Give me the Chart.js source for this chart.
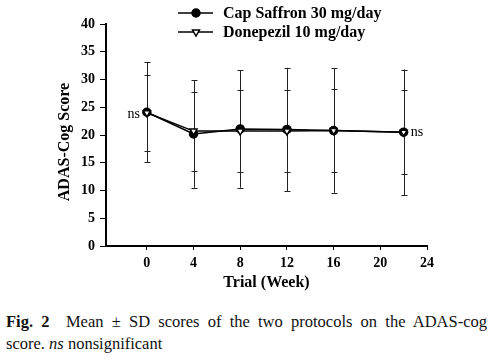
<!DOCTYPE html>
<html>
<head>
<meta charset="utf-8">
<script src="https://cdn.jsdelivr.net/npm/chart.js@4"></script>
<style>
html,body{margin:0;padding:0;background:#fff;}
#wrap{position:relative;width:500px;height:360px;overflow:hidden;}
#c{position:absolute;left:0;top:0;}
.cap{position:absolute;left:6px;width:481px;font-family:"Liberation Serif","Times New Roman",serif;font-size:16.5px;line-height:20px;color:#111;white-space:nowrap;}
#cap1{top:312px;text-align:justify;text-align-last:justify;white-space:normal;}
#cap2{top:334px;text-align:left;}
</style>
</head>
<body>
<div id="wrap">
<canvas id="c" width="500" height="300"></canvas>
<div class="cap" id="cap1"><b>Fig. 2</b>&nbsp; Mean ± SD scores of the two protocols on the ADAS-cog</div>
<div class="cap" id="cap2">score. <i>ns</i> nonsignificant</div>
</div>
<script>
const weeks = [0, 4, 8, 12, 16, 22];
const saffronMean = [24.1, 20.2, 21.1, 21.0, 20.8, 20.5];
const saffronSD = [9.0, 9.7, 10.6, 11.1, 11.2, 11.3];
const donepezilMean = [24.0, 20.7, 20.7, 20.7, 20.8, 20.5];
const donepezilSD = [6.9, 7.1, 7.4, 7.4, 7.4, 7.6];
const xTicks = [0, 4, 8, 12, 16, 20, 24];
const yTicks = [0, 5, 10, 15, 20, 25, 30, 35, 40];
const seriesNames = ["Cap Saffron 30 mg/day", "Donepezil 10 mg/day"];
const nsLabels = [{week: 0, side: "left"}, {week: 22, side: "right"}];

const SERIF = "'Liberation Serif', serif";
Chart.defaults.font.family = SERIF;

const errorBars = {
  id: 'errorBars',
  beforeDatasetsDraw(chart) {
    const ctx = chart.ctx;
    const y = chart.scales.y;
    chart.data.datasets.forEach((ds, i) => {
      const meta = chart.getDatasetMeta(i);
      ctx.save();
      ctx.strokeStyle = '#222';
      ctx.lineWidth = 1;
      meta.data.forEach((pt, j) => {
        const x = Math.round(pt.x) + 0.5;
        const top = y.getPixelForValue(ds.means[j] + ds.sds[j]);
        const bot = y.getPixelForValue(ds.means[j] - ds.sds[j]);
        ctx.beginPath();
        ctx.moveTo(x, top); ctx.lineTo(x, bot);
        ctx.moveTo(x - 3, Math.round(top) + 0.5); ctx.lineTo(x + 3, Math.round(top) + 0.5);
        ctx.moveTo(x - 3, Math.round(bot) + 0.5); ctx.lineTo(x + 3, Math.round(bot) + 0.5);
        ctx.stroke();
      });
      ctx.restore();
    });
  },
  afterDraw(chart) {
    const ctx = chart.ctx;
    const xs = chart.scales.x, ys = chart.scales.y;
    const area = chart.chartArea;
    ctx.save();
    ctx.fillStyle = '#000';
    ctx.font = 'bold 16px ' + SERIF;
    ctx.textAlign = 'center';
    ctx.textBaseline = 'middle';
    ctx.fillText('Trial (Week)', (area.left + area.right) / 2, 283);
    ctx.save();
    ctx.translate(65, 142);
    ctx.rotate(-Math.PI / 2);
    ctx.fillText('ADAS-Cog Score', 0, 0);
    ctx.restore();
    ctx.font = '14px ' + SERIF;
    nsLabels.forEach(n => {
      const j = weeks.indexOf(n.week);
      const px = xs.getPixelForValue(n.week);
      const py = ys.getPixelForValue(saffronMean[j]);
      if (n.side === 'left') { ctx.textAlign = 'right'; ctx.fillText('ns', px - 7, py + 2); }
      else { ctx.textAlign = 'left'; ctx.fillText('ns', px + 7, py); }
    });
    const rows = [13, 32];
    chart.data.datasets.forEach((ds, i) => {
      const yy = rows[i];
      ctx.strokeStyle = '#000';
      ctx.lineWidth = 1.5;
      ctx.beginPath(); ctx.moveTo(178, yy); ctx.lineTo(213, yy); ctx.stroke();
      ctx.fillStyle = ds.pointBackgroundColor;
      ctx.strokeStyle = '#000';
      Chart.helpers.drawPoint(ctx, {pointStyle: ds.pointStyle, radius: 4, rotation: ds.pointRotation || 0, borderWidth: 1.5}, 196, yy);
      ctx.fillStyle = '#000';
      ctx.font = 'bold 16px ' + SERIF;
      ctx.textAlign = 'left';
      ctx.textBaseline = 'middle';
      ctx.fillText(ds.label, 223, yy + 1);
    });
    ctx.restore();
  }
};

new Chart(document.getElementById('c'), {
  type: 'line',
  data: {
    datasets: [
      {
        label: seriesNames[0],
        data: weeks.map((w, i) => ({x: w, y: saffronMean[i]})),
        means: saffronMean, sds: saffronSD,
        borderColor: '#000', borderWidth: 1.5,
        pointStyle: 'circle', pointRadius: 4, pointBackgroundColor: '#000', pointBorderColor: '#000', pointBorderWidth: 1.5,
        order: 2, tension: 0
      },
      {
        label: seriesNames[1],
        data: weeks.map((w, i) => ({x: w, y: donepezilMean[i]})),
        means: donepezilMean, sds: donepezilSD,
        borderColor: '#000', borderWidth: 1.5,
        pointStyle: 'triangle', pointRotation: 180, pointRadius: 4, pointBackgroundColor: '#fff', pointBorderColor: '#000', pointBorderWidth: 1.5,
        order: 1, tension: 0
      }
    ]
  },
  options: {
    responsive: false,
    animation: false,
    devicePixelRatio: 1,
    layout: {padding: {top: 24, right: 73, left: 0, bottom: 0}},
    plugins: {legend: {display: false}, tooltip: {enabled: false}, title: {display: false}},
    scales: {
      x: {
        type: 'linear', min: -3.5, max: 24,
        afterBuildTicks: s => { s.ticks = xTicks.map(v => ({value: v})); },
        afterFit: s => { s.height = 54; },
        grid: {display: true, drawOnChartArea: false, drawTicks: true, tickLength: 4, color: '#000', lineWidth: 1},
        border: {display: true, color: '#000', width: 2},
        ticks: {color: '#000', padding: 5, font: {family: SERIF, size: 14, weight: 'bold'}, maxRotation: 0, autoSkip: false}
      },
      y: {
        type: 'linear', min: 0, max: 40,
        afterBuildTicks: s => { s.ticks = yTicks.map(v => ({value: v})); },
        afterFit: s => { s.width = 106; },
        grid: {display: true, drawOnChartArea: false, drawTicks: true, tickLength: 6, color: '#000', lineWidth: 1},
        border: {display: true, color: '#000', width: 2},
        ticks: {color: '#000', padding: 5, font: {family: SERIF, size: 14, weight: 'bold'}}
      }
    }
  },
  plugins: [errorBars]
});
</script>
</body>
</html>
